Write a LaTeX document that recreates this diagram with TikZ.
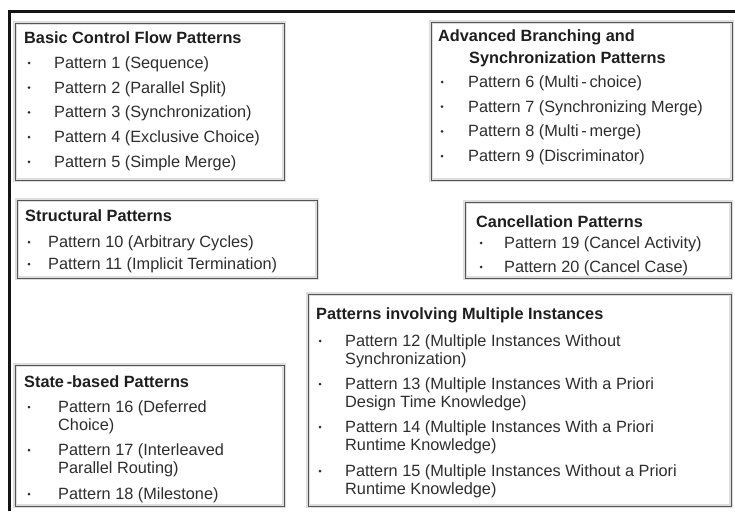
\documentclass[tikz,border=0pt]{standalone}
\usepackage{fontspec}
\setmainfont{Liberation Sans}
\usetikzlibrary{fit}

\definecolor{framecol}{RGB}{20,20,20}
\definecolor{boxline}{RGB}{85,85,85}
\definecolor{boxhalo}{RGB}{222,222,222}
\definecolor{titlecol}{RGB}{30,30,30}
\definecolor{itemcol}{RGB}{45,45,45}

\tikzset{
  group/.style={draw=boxline, line width=0.9pt, inner sep=0pt, outer sep=0pt,
    preaction={draw=boxhalo, line width=3.2pt}},
  head/.style={anchor=base west, inner sep=0pt, text=titlecol,
    font=\bfseries\fontsize{16.3}{18}\selectfont},
  item/.style={anchor=base west, inner sep=0pt, text=itemcol,
    font=\fontsize{16.3}{18}\selectfont},
  dot/.style={circle, fill=itemcol, inner sep=0pt, minimum size=3pt},
}

\begin{document}
\begin{tikzpicture}[x=1pt, y=-1pt]
\useasboundingbox (0,0) rectangle (735,511);

% open outer frame (left and top edges)
\coordinate (fbl) at (9,511);
\coordinate (ftl) at (9,12);
\coordinate (ftr) at (735,12);
\draw[framecol, line width=3pt] (fbl) -- (ftl) -- (ftr);

% ---------- Basic Control Flow Patterns ----------
\coordinate (ba) at (15,23); \coordinate (bb) at (284,180);
\node[group, fit=(ba)(bb)] (basic) {};
\node[head] (basicT) at (24,43.5) {Basic Control Flow Patterns};
\node[dot] (bd1) at (29,63) {};  \node[item] (p1) at (54,68.5)  {Pattern 1 (Sequence)};
\node[dot] (bd2) at (29,87.7) {}; \node[item] (p2) at (54,93.2) {Pattern 2 (Parallel Split)};
\node[dot] (bd3) at (29,112.4) {}; \node[item] (p3) at (54,117.9) {Pattern 3 (Synchronization)};
\node[dot] (bd4) at (29,137.1) {}; \node[item] (p4) at (54,142.6) {Pattern 4 (Exclusive Choice)};
\node[dot] (bd5) at (29,161.8) {}; \node[item] (p5) at (54,167.3) {Pattern 5 (Simple Merge)};

% ---------- Advanced Branching and Synchronization ----------
\coordinate (aa) at (431,22); \coordinate (ab) at (732,180);
\node[group, fit=(aa)(ab)] (adv) {};
\node[head] (advT1) at (438,41.5) {Advanced Branching and};
\node[head] (advT2) at (469,63.5) {Synchronization Patterns};
\node[dot] (ad6) at (442,82) {};    \node[item] (p6) at (468,87.5)  {Pattern 6 (Multi\,-\,choice)};
\node[dot] (ad7) at (442,106.7) {}; \node[item] (p7) at (468,112.2) {Pattern 7 (Synchronizing Merge)};
\node[dot] (ad8) at (442,131.4) {}; \node[item] (p8) at (468,136.9) {Pattern 8 (Multi\,-\,merge)};
\node[dot] (ad9) at (442,156.1) {}; \node[item] (p9) at (468,161.6) {Pattern 9 (Discriminator)};

% ---------- Structural Patterns ----------
\coordinate (sa) at (17,200); \coordinate (sb) at (317,278);
\node[group, fit=(sa)(sb)] (struct) {};
\node[head] (structT) at (25,221.5) {Structural Patterns};
\node[dot] (sd10) at (29,242) {}; \node[item] (p10) at (48,247.5) {Pattern 10 (Arbitrary Cycles)};
\node[dot] (sd11) at (29,264) {}; \node[item] (p11) at (48,269.5) {Pattern 11 (Implicit Termination)};

% ---------- Cancellation Patterns ----------
\coordinate (ca) at (465,202); \coordinate (cb) at (731,278);
\node[group, fit=(ca)(cb)] (cancel) {};
\node[head] (cancelT) at (476,227) {Cancellation Patterns};
\node[dot] (cd19) at (481,243) {}; \node[item] (p19) at (504,248.5) {Pattern 19 (Cancel Activity)};
\node[dot] (cd20) at (481,267) {}; \node[item] (p20) at (504,272.5) {Pattern 20 (Cancel Case)};

% ---------- Patterns involving Multiple Instances ----------
\coordinate (ma) at (308,294); \coordinate (mb) at (731,506);
\node[group, fit=(ma)(mb)] (multi) {};
\node[head] (multiT) at (316,319) {Patterns involving Multiple Instances};
\node[dot] (md12) at (320,341) {};
\node[item] (p12) at (345,346.5) {Pattern 12 (Multiple Instances Without};
\node[item] (p12b) at (345,364.5) {Synchronization)};
\node[dot] (md13) at (320,384) {};
\node[item] (p13) at (345,389.5) {Pattern 13 (Multiple Instances With a Priori};
\node[item] (p13b) at (345,407.5) {Design Time Knowledge)};
\node[dot] (md14) at (320,427) {};
\node[item] (p14) at (345,432.5) {Pattern 14 (Multiple Instances With a Priori};
\node[item] (p14b) at (345,450.5) {Runtime Knowledge)};
\node[dot] (md15) at (320,471) {};
\node[item] (p15) at (345,476.5) {Pattern 15 (Multiple Instances Without a Priori};
\node[item] (p15b) at (345,494.5) {Runtime Knowledge)};

% ---------- State-based Patterns ----------
\coordinate (ta) at (15,365); \coordinate (tb) at (284,506);
\node[group, fit=(ta)(tb)] (state) {};
\node[head] (stateT) at (24,387.5) {State\,-based Patterns};
\node[dot] (td16) at (29,407) {};
\node[item] (p16) at (58,412.5) {Pattern 16 (Deferred};
\node[item] (p16b) at (58,430.5) {Choice)};
\node[dot] (td17) at (29,450) {};
\node[item] (p17) at (58,455.5) {Pattern 17 (Interleaved};
\node[item] (p17b) at (58,473.5) {Parallel Routing)};
\node[dot] (td18) at (29,494) {};
\node[item] (p18) at (58,499.5) {Pattern 18 (Milestone)};

\end{tikzpicture}
\end{document}
